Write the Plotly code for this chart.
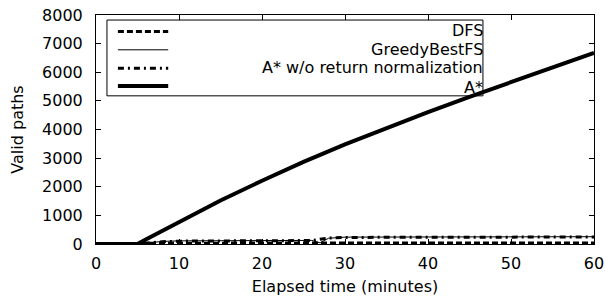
import plotly.graph_objects as go

# ---- data ----
dfs_t = [0, 5, 6, 10, 20, 30, 40, 50, 60]
dfs_v = [0, 0, 25, 30, 35, 35, 35, 35, 35]

greedy_t = [0, 5, 8, 10, 20, 26, 27, 28, 30, 40, 50, 60]
greedy_v = [0, 0, 90, 110, 120, 125, 40, 200, 240, 245, 250, 255]

astar_nonorm_t = [0, 5, 8, 10, 20, 26, 28, 30, 40, 50, 60]
astar_nonorm_v = [0, 0, 80, 100, 115, 120, 210, 230, 235, 240, 245]

astar_t = [0, 5, 6, 8, 10, 12, 15, 20, 25, 30, 35, 40, 45, 50, 55, 60]
astar_v = [0, 0, 160, 470, 780, 1080, 1520, 2210, 2870, 3480, 4060, 4610, 5140, 5660, 6175, 6680]

series_names = ["DFS", "GreedyBestFS", "A* w/o return normalization", "A*"]
x_ticks = [0, 10, 20, 30, 40, 50, 60]
y_ticks = [0, 1000, 2000, 3000, 4000, 5000, 6000, 7000, 8000]

styles = [
    dict(color="black", width=3, dash="6px,3px"),
    dict(color="black", width=1, dash="solid"),
    dict(color="black", width=3, dash="6px,4px,2px,4px"),
    dict(color="black", width=4, dash="solid"),
]

FONT = "DejaVu Sans, Liberation Sans, Arial, sans-serif"

fig = go.Figure()
data = [(dfs_t, dfs_v), (greedy_t, greedy_v), (astar_nonorm_t, astar_nonorm_v), (astar_t, astar_v)]
for (t, v), name, st in zip(data, series_names, styles):
    fig.add_trace(go.Scatter(x=t, y=v, mode="lines", name=name, line=st, showlegend=False,
                             hoverinfo="skip"))

# ---- manual gnuplot-style legend (right-aligned labels) ----
lx0, lx1 = 0.022, 0.777
ly1, ly0 = 0.978, 0.647
fig.add_shape(type="rect", xref="paper", yref="paper", x0=lx0, x1=lx1, y0=ly0, y1=ly1,
              line=dict(color="black", width=1), fillcolor="white", layer="below")
sample_rows = [0.928, 0.848, 0.768, 0.690]
text_rows = [0.932, 0.851, 0.769, 0.684]
for name, st, ry, ty in zip(series_names, styles, sample_rows, text_rows):
    fig.add_shape(type="line", xref="paper", yref="paper", x0=0.044, x1=0.145, y0=ry, y1=ry,
                  line=st)
    fig.add_annotation(xref="paper", yref="paper", x=lx1, y=ty, text=name, showarrow=False,
                       xanchor="right", yanchor="middle", xshift=1, borderpad=0,
                       font=dict(family=FONT, size=16, color="black"))

axis_common = dict(
    showline=True, linecolor="black", linewidth=1, mirror="ticks",
    ticks="inside", ticklen=5, tickcolor="black", tickwidth=1,
    showgrid=False, zeroline=False, automargin=False, ticklabeloverflow="allow",
    tickfont=dict(family=FONT, size=16, color="black"),
)

fig.update_xaxes(range=[0, 60], tickvals=x_ticks, ticktext=[str(v) for v in x_ticks],
                 title=dict(text="Elapsed time (minutes)", font=dict(family=FONT, size=16, color="black"), standoff=8),
                 ticklabelstandoff=5, **axis_common)
fig.update_yaxes(range=[0, 8000], tickvals=y_ticks, ticktext=[str(v) for v in y_ticks],
                 title=dict(text="Valid paths", font=dict(family=FONT, size=16, color="black"), standoff=14),
                 ticklabelstandoff=9, **axis_common)

fig.update_layout(
    width=605, height=303,
    margin=dict(l=96, r=11, t=15, b=59),
    paper_bgcolor="white", plot_bgcolor="white",
    font=dict(family=FONT, size=16, color="black"),
    hovermode=False,
)

# remove the default page margin so the 605x303 figure fills the window exactly
fig.write_html("out.html",
               config={"displayModeBar": False},
               post_script="document.body.style.margin='0';document.body.style.overflow='hidden';")
